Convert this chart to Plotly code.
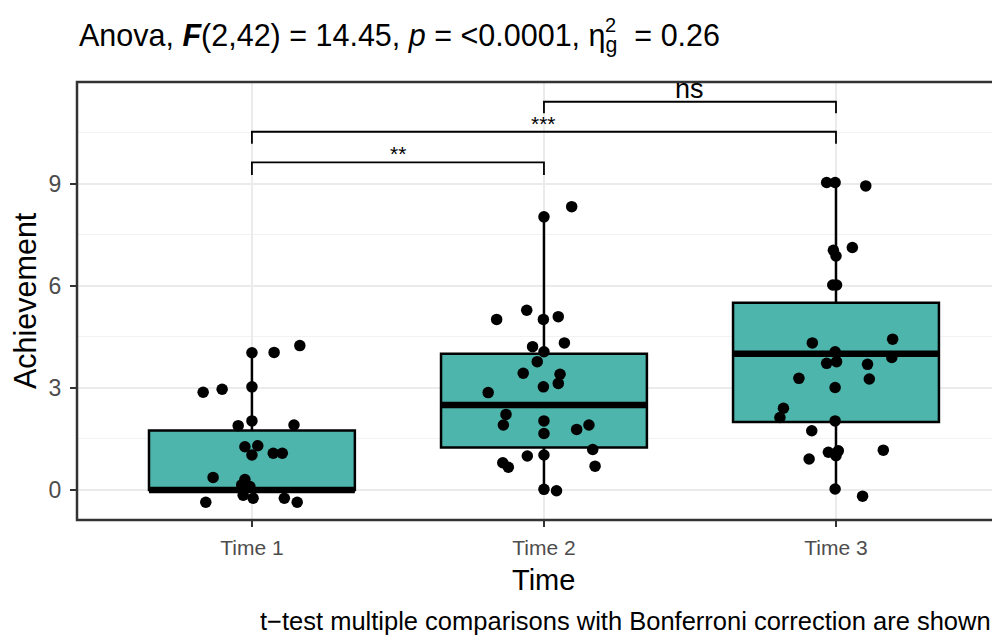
import plotly.graph_objects as go

# ---------------- data ----------------
categories = ["Time 1", "Time 2", "Time 3"]
cat_pos = [1, 2, 3]

# box statistics
q1 = [0.0, 1.25, 2.0]
median = [0.0, 2.5, 4.0]
q3 = [1.75, 4.0, 5.5]
lower_fence = [0.0, 0.0, 0.0]
upper_fence = [4.0, 8.0, 9.0]

# jittered points: horizontal offset from category centre, and value
t1_off = [0.00, 0.076, 0.164, -0.167, -0.102, 0.00, 0.00, -0.047, 0.144, -0.024, 0.020, 0.00,
          0.073, 0.104, -0.133, -0.024, -0.035, -0.007, -0.030, 0.004, -0.158, 0.111, 0.155]
t1_val = [4.03, 4.04, 4.24, 2.87, 2.96, 3.03, 2.03, 1.89, 1.91, 1.27, 1.30, 1.03,
          1.08, 1.08, 0.37, 0.31, 0.15, 0.10, -0.15, -0.24, -0.36, -0.24, -0.36]

t2_off = [0.00, 0.095, -0.162, -0.059, -0.002, 0.049, 0.070, -0.039, 0.00, -0.023, -0.071, 0.055,
          0.049, -0.002, -0.191, -0.130, -0.139, 0.00, 0.00, 0.112, 0.154, 0.167, -0.057, 0.00,
          0.175, -0.141, -0.122, 0.00, 0.043]
t2_val = [8.02, 8.32, 5.01, 5.28, 5.01, 5.09, 4.32, 4.21, 4.06, 3.77, 3.43, 3.40,
          3.13, 3.03, 2.86, 2.22, 1.91, 2.03, 1.66, 1.78, 1.91, 1.19, 1.00, 1.03,
          0.70, 0.80, 0.67, 0.02, -0.02]

t3_off = [-0.032, -0.003, 0.102, -0.009, 0.00, 0.056, -0.011, 0.002, 0.194, -0.081, -0.003, -0.032,
          0.002, 0.108, 0.191, -0.127, 0.114, -0.003, -0.180, -0.192, -0.003, -0.083, -0.026, 0.008,
          0.00, -0.092, 0.162, -0.003, 0.091]
t3_val = [9.03, 9.03, 8.93, 7.04, 6.87, 7.12, 6.02, 6.02, 4.43, 4.32, 4.06, 3.72,
          3.77, 3.69, 3.89, 3.28, 3.26, 3.01, 2.40, 2.13, 2.03, 1.74, 1.11, 1.15,
          1.01, 0.91, 1.17, 0.03, -0.18]

# significance brackets: (group a, group b, bracket y, label)
br_a = [1, 1, 2]
br_b = [2, 3, 3]
br_y = [9.62, 10.52, 11.40]
br_tip = [0.37, 0.35, 0.34]
br_label = ["**", "***", "ns"]

y_ticks = [0, 3, 6, 9]

title_text = ("Anova, <b><i>F</i></b>(2,42) = 14.45, <i>p</i> = &lt;0.0001, "
              "η<sub>g</sub>\u00a0 = 0.26")
caption_text = "t\u2212test multiple comparisons with Bonferroni correction are shown"

# ---------------- styles ----------------
FONT = "Liberation Sans, Arial, sans-serif"
TEAL = "#4DB5AB"
BOX_W = 0.705

fig = go.Figure()

fig.add_trace(go.Box(
    x=cat_pos, q1=q1, median=median, q3=q3,
    lowerfence=lower_fence, upperfence=upper_fence,
    boxpoints=False, width=BOX_W, whiskerwidth=0,
    fillcolor=TEAL, line=dict(color="black", width=2.5),
    showlegend=False, hoverinfo="skip"))

# thick median segments
mx, my = [], []
for c, m in zip(cat_pos, median):
    mx += [c - BOX_W / 2, c + BOX_W / 2, None]
    my += [m, m, None]
fig.add_trace(go.Scatter(x=mx, y=my, mode="lines",
                         line=dict(color="black", width=6.5),
                         showlegend=False, hoverinfo="skip"))

# jittered points
px, py = [], []
for c, offs, vals in zip(cat_pos, [t1_off, t2_off, t3_off], [t1_val, t2_val, t3_val]):
    px += [c + o for o in offs]
    py += vals
fig.add_trace(go.Scatter(x=px, y=py, mode="markers",
                         marker=dict(color="black", size=11.5, line=dict(width=0)),
                         showlegend=False, hoverinfo="skip"))

# brackets
bx, by = [], []
for a, b, y, t in zip(br_a, br_b, br_y, br_tip):
    bx += [a, a, b, b, None]
    by += [y - t, y, y, y - t, None]
fig.add_trace(go.Scatter(x=bx, y=by, mode="lines",
                         line=dict(color="black", width=1.8),
                         showlegend=False, hoverinfo="skip"))

for a, b, y, lab in zip(br_a, br_b, br_y, br_label):
    is_ns = lab == "ns"
    fig.add_annotation(x=(a + b) / 2, y=y, xref="x", yref="y",
                       text=lab, showarrow=False, yanchor="bottom",
                       yshift=(-4 if is_ns else -5),
                       font=dict(family=FONT, size=(27 if is_ns else 21), color="black"))

# title
fig.add_annotation(x=0, xref="paper", y=1, yref="paper", xanchor="left", yanchor="middle",
                   yshift=45, text=title_text, showarrow=False,
                   font=dict(family=FONT, size=30.5, color="black"))
fig.add_annotation(x=0, xref="paper", y=1, yref="paper", xanchor="left", yanchor="middle",
                   xshift=526, yshift=57, text="2", showarrow=False,
                   font=dict(family=FONT, size=20, color="black"))

# caption
fig.add_annotation(x=0, xref="paper", y=0, yref="paper", xanchor="left", yanchor="middle",
                   xshift=181, yshift=-101, text=caption_text, showarrow=False,
                   font=dict(family=FONT, size=25.5, color="black"))

# axis titles
fig.add_annotation(x=2, xref="x", y=0, yref="paper", xanchor="center", yanchor="middle",
                   yshift=-60, text="Time", showarrow=False,
                   font=dict(family=FONT, size=29, color="black"))
fig.add_annotation(x=0, xref="paper", y=0.5, yref="paper", xanchor="center", yanchor="middle",
                   xshift=-52, text="Achievement", textangle=-90, showarrow=False,
                   font=dict(family=FONT, size=30.5, color="black"))

# panel border (right edge off-canvas)
fig.add_shape(type="rect", xref="paper", yref="paper", x0=0, x1=1.05, y0=0, y1=1,
              line=dict(color="#333333", width=2.5), layer="above")

# the page adds an 8px body margin, so the figure is 8px smaller than the window
fig.update_layout(
    width=992, height=627,
    margin=dict(l=69, r=0, t=74, b=115),
    paper_bgcolor="white", plot_bgcolor="white",
    showlegend=False,
    xaxis=dict(range=[0.401, 3.5616], tickmode="array", tickvals=cat_pos, ticktext=categories,
               showgrid=True, gridcolor="#EBEBEB", gridwidth=1.5, zeroline=False,
               ticks="outside", ticklen=6, tickwidth=2, tickcolor="#333333",
               ticklabelstandoff=3,
               tickfont=dict(family=FONT, size=21, color="#4D4D4D"), showline=False),
    yaxis=dict(range=[-0.88, 11.98], tickmode="array", tickvals=y_ticks,
               showgrid=True, gridcolor="#EBEBEB", gridwidth=1.5, zeroline=False,
               ticks="outside", ticklen=6, tickwidth=2, tickcolor="#333333",
               ticklabelstandoff=4,
               tickfont=dict(family=FONT, size=23, color="#4D4D4D"), showline=False,
               minor=dict(tickmode="array", tickvals=[1.5, 4.5, 7.5, 10.5], showgrid=True,
                          gridcolor="#F2F2F2", gridwidth=1, ticks="")),
)

fig.write_html("out.html")
